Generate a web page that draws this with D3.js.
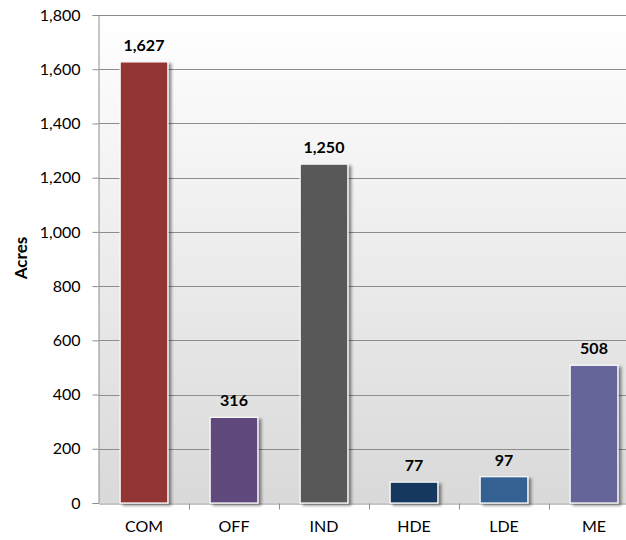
<!DOCTYPE html>
<html><head><meta charset="utf-8">
<script src="https://cdn.jsdelivr.net/npm/d3@7"></script>
<style>body{margin:0;background:#fff}svg{display:block}</style>
</head><body>
<script>
const categories = ["COM","OFF","IND","HDE","LDE","ME"];
const values = [1627,316,1250,77,97,508];
const colors = ["#943634","#604A7B","#595959","#17375E","#366092","#65659A"];
const yTicks = [0,200,400,600,800,1000,1200,1400,1600,1800];

const W=626,H=540;
const m={left:99,top:15,right:-13,bottom:37};
const svg=d3.select("body").append("svg").attr("width",W).attr("height",H);
const defs=svg.append("defs");
const bg=defs.append("linearGradient").attr("id","bg").attr("x1",0).attr("y1",0).attr("x2",0).attr("y2",1);
bg.append("stop").attr("offset","0%").attr("stop-color","#ffffff");
bg.append("stop").attr("offset","100%").attr("stop-color","#d9d9d9");
const f=defs.append("filter").attr("id","sh").attr("x","-20%").attr("y","-20%").attr("width","150%").attr("height","140%");
f.append("feGaussianBlur").attr("in","SourceAlpha").attr("stdDeviation",1.6);
f.append("feOffset").attr("dx",2.5).attr("dy",1.5).attr("result","o");
f.append("feComponentTransfer").append("feFuncA").attr("type","linear").attr("slope",0.45);
const mg=f.append("feMerge");mg.append("feMergeNode");mg.append("feMergeNode").attr("in","SourceGraphic");

const x=d3.scaleBand().domain(categories).range([m.left,W-m.right]).paddingInner(0.47).paddingOuter(0.235);
const xb=d3.scaleBand().domain(categories).range([m.left,W-m.right]);
const y=d3.scaleLinear().domain([0,1800]).range([H-m.bottom,m.top]);

svg.append("rect").attr("x",m.left).attr("y",m.top).attr("width",W-m.right-m.left).attr("height",y(0)-m.top).attr("fill","url(#bg)");

const font="Lato, 'Open Sans', sans-serif";
// grid
svg.append("g").selectAll("line").data(yTicks.slice(1)).join("line")
 .attr("x1",m.left).attr("x2",W-m.right).attr("y1",d=>Math.round(y(d))+0.5).attr("y2",d=>Math.round(y(d))+0.5)
 .attr("stroke","#8c8c8c").attr("stroke-width",1);

// y axis
const ya=svg.append("g").attr("transform",`translate(${m.left-0.5},0)`)
 .call(d3.axisLeft(y).tickValues(yTicks).tickFormat(d3.format(",")).tickSizeOuter(0).tickSize(6).tickPadding(12));
ya.select(".domain").attr("stroke","#8c8c8c");
ya.selectAll(".tick line").attr("stroke","#8c8c8c");
ya.selectAll("text").attr("font-family",font).attr("font-size",16).attr("fill","#000");

// x axis
const xa=svg.append("g").attr("transform",`translate(0,${Math.round(y(0))+0.5})`)
 .call(d3.axisBottom(xb).tickSize(0).tickPadding(17).tickSizeOuter(0));
xa.select(".domain").attr("stroke","#8c8c8c");
xa.selectAll("text").attr("font-family",font).attr("font-size",16).attr("fill","#000");
xa.selectAll(".xt").data(categories.slice(1).concat(["_end"])).join("line")
 .attr("x1",(d,i)=>Math.round(m.left+xb.step()*(i+1))+0.5).attr("x2",(d,i)=>Math.round(m.left+xb.step()*(i+1))+0.5)
 .attr("y1",0).attr("y2",6).attr("stroke","#8c8c8c");

// bars
svg.append("g").selectAll("rect").data(values).join("rect")
 .attr("x",(d,i)=>x(categories[i])).attr("width",x.bandwidth())
 .attr("y",d=>y(d)).attr("height",d=>y(0)-y(d))
 .attr("fill",(d,i)=>colors[i]).attr("stroke","#fff").attr("stroke-width",1.2)
 .attr("filter","url(#sh)");

// labels
svg.append("g").selectAll("text").data(values).join("text")
 .attr("x",(d,i)=>x(categories[i])+x.bandwidth()/2).attr("y",d=>y(d)-11)
 .attr("text-anchor","middle").attr("font-family",font).attr("font-weight","bold").attr("font-size",16)
 .text(d=>d3.format(",")(d));

svg.append("text").attr("transform",`translate(27,${(m.top+y(0))/2 - 1}) rotate(-90)`)
 .attr("text-anchor","middle").attr("font-family",font).attr("font-weight","bold").attr("font-size",17).text("Acres");
</script>
</body></html>
